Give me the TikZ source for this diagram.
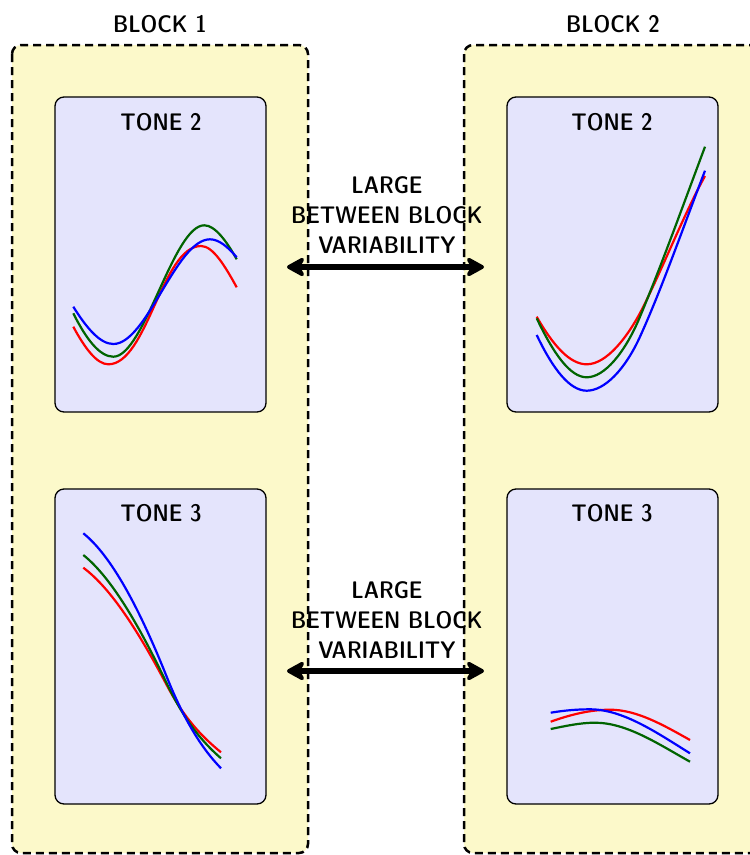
\documentclass[tikz,border=0pt]{standalone}
\usetikzlibrary{arrows.meta}
\definecolor{blockgelb}{RGB}{252,249,202}
\definecolor{panelblau}{RGB}{228,228,252}
\definecolor{dunkelgruen}{RGB}{0,100,0}
\tikzset{
    block/.style={draw, line width=2.5pt, dash pattern=on 8pt off 5pt, rounded corners=9pt, fill=blockgelb},
    panel/.style={draw, line width=1.3pt, rounded corners=9pt, fill=panelblau},
    titel/.style={font=\sffamily\fontseries{sbc}\fontsize{24}{30}\selectfont},
    kontur/.style={line width=2.2pt},
    pfeil/.style={line width=5.5pt, {Stealth[length=22pt,width=24pt,inset=7pt,round]}-{Stealth[length=22pt,width=24pt,inset=7pt,round]}},
}

\begin{document}
\begin{tikzpicture}[x=1pt, y=-1pt]
\useasboundingbox (0,0) rectangle (750,855);

% Bloecke
\draw[block] (12,45) rectangle (308,853);
\draw[block] (464,45) rectangle (762,853);
\node[titel] (b1) at (160,24) {BLOCK 1};
\node[titel] (b2) at (613,24) {BLOCK 2};

% Panels
\draw[panel] (55,97) rectangle (266,412);
\draw[panel] (55,489) rectangle (266,804);
\draw[panel] (507,97) rectangle (718,412);
\draw[panel] (507,489) rectangle (718,804);
\node[titel] (t12) at (161,122) {TONE 2};
\node[titel] (t13) at (161,513) {TONE 3};
\node[titel] (t22) at (612,122) {TONE 2};
\node[titel] (t23) at (612,513) {TONE 3};

% Block 1, Ton 2
\draw[kontur, red] (73.3,326.7) .. controls (85,348.5) and (97,364.3) .. (108.3,364.3)
    .. controls (147.3,364.3) and (162,246) .. (201,246)
    .. controls (213,246) and (225,266) .. (236.7,287.3);
\draw[kontur, dunkelgruen] (73.3,313.3) .. controls (86.6,340) and (100,356.7) .. (113.3,356.7)
    .. controls (144.3,356.7) and (173.3,225.3) .. (204.3,225.3)
    .. controls (215,225.3) and (226.7,241.3) .. (236.7,259.3);
\draw[kontur, blue] (73.3,306.7) .. controls (86.6,328) and (100,344) .. (113.3,344)
    .. controls (147,344) and (176,239.3) .. (210,239.3)
    .. controls (219,239.3) and (228,247) .. (236.7,257.3);

% Block 2, Ton 2
\draw[kontur, red] (536.7,316.7) .. controls (553.4,346) and (570,364.3) .. (586.7,364.3)
    .. controls (606.7,364.3) and (628.3,336.7) .. (643.3,306.7)
    .. controls (663.3,266.7) and (685,212) .. (705,176);
\draw[kontur, dunkelgruen] (536.7,318.3) .. controls (553.4,353.3) and (570,377.3) .. (586.7,377.3)
    .. controls (604.5,377.3) and (625,352.7) .. (640,316.7)
    .. controls (661.7,264.7) and (683.3,204.7) .. (705,146.7);
\draw[kontur, blue] (536.7,335) .. controls (553.4,370) and (570,390.7) .. (586.7,390.7)
    .. controls (604.5,390.7) and (625,369.7) .. (640,336.7)
    .. controls (661.7,289) and (683.3,227) .. (705,170.7);

% Block 1, Ton 3
\draw[kontur, red] (83.3,567.7) .. controls (111.1,588.3) and (138.9,632.2) .. (166.7,685)
    .. controls (184.8,719.4) and (202.9,737.5) .. (221,752.3);
\draw[kontur, dunkelgruen] (83.3,555) .. controls (111.1,577.2) and (138.9,624.9) .. (166.7,683.3)
    .. controls (184.8,721.3) and (202.9,742.6) .. (221,758.3);
\draw[kontur, blue] (83.3,533.3) .. controls (111.1,555.5) and (138.9,607.2) .. (166.7,676.7)
    .. controls (184.8,722) and (202.9,749.7) .. (221,768.3);

% Block 2, Ton 3
\draw[kontur, dunkelgruen] (550.7,729) .. controls (565.5,726) and (580.2,722.7) .. (595,722.7)
    .. controls (626.7,722.7) and (658.3,744) .. (690,761.7);
\draw[kontur, red] (550.7,721.7) .. controls (570.5,714.6) and (590,709.7) .. (610,709.7)
    .. controls (636.7,709.7) and (663.3,725) .. (690,740);
\draw[kontur, blue] (550.7,712.7) .. controls (563.8,710.5) and (577,709.3) .. (590,709.3)
    .. controls (623,709.3) and (656.7,732.6) .. (690,753.3);

% Variabilitaet
\node[titel, align=center] (v1) at (387,215) {LARGE\\BETWEEN BLOCK\\VARIABILITY};
\node[titel, align=center] (v2) at (387,620) {LARGE\\BETWEEN BLOCK\\VARIABILITY};
\coordinate (p1l) at (287,267);
\coordinate (p1r) at (484,267);
\coordinate (p2l) at (287,671);
\coordinate (p2r) at (484,671);
\draw[pfeil] (p1l) -- (p1r);
\draw[pfeil] (p2l) -- (p2r);
\end{tikzpicture}
\end{document}
